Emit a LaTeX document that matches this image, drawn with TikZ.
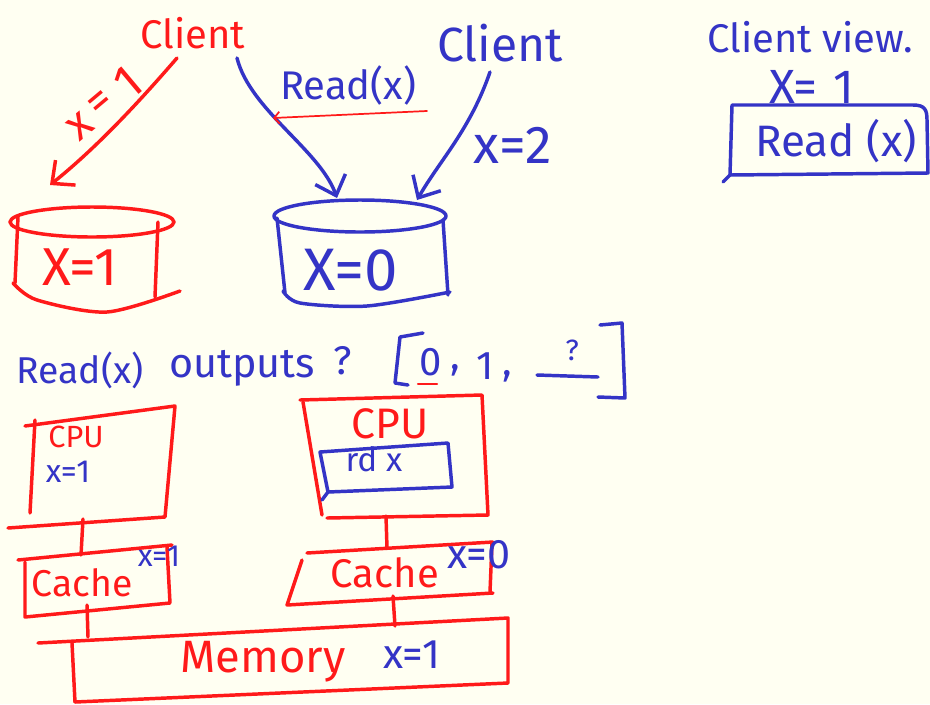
\documentclass[tikz,border=0pt]{standalone}
\usepackage{fontspec}
\setmainfont{Fira Sans}
\usetikzlibrary{arrows.meta}
\definecolor{inkred}{HTML}{FF1A1A}
\definecolor{inkblue}{HTML}{3434C6}
\definecolor{paper}{HTML}{FFFFF2}

\begin{document}
\begin{tikzpicture}[x=0.75pt,y=-0.75pt, line cap=round, line join=round,
  redpen/.style={draw=inkred, line width=2.6pt},
  bluepen/.style={draw=inkblue, line width=2.6pt},
  redtxt/.style={text=inkred, inner sep=0pt},
  bluetxt/.style={text=inkblue, inner sep=0pt},
  fs/.style={font=\fontsize{#1}{#1}\selectfont},
  tip/.style={-{Straight Barb[length=13pt,width=24pt]}}]

% paper
\fill[paper] (0,0) rectangle (930,704);
\useasboundingbox (0,0) rectangle (930,704);

% ---------- clients and stores ----------
\node[redtxt, fs=30] (clientA) at (193,33) {Client};
\node[bluetxt, fs=36] (clientB) at (500,43) {Client};
\coordinate (clientA-l) at (177,58);
\coordinate (clientA-r) at (237,58);
\coordinate (clientB-o) at (490,72);

% red store
\draw[redpen] (92,222) ellipse [x radius=82, y radius=15];
\draw[redpen] (18,217) -- (15,283);
\draw[redpen] (158,222) -- (155,297);
\draw[redpen] plot[smooth] coordinates {(13,283) (37,300) (107,312) (180,291)};
\node[redtxt, fs=40] (storeA) at (80,267) {X=1};
\coordinate (storeA-in) at (50,185);

% blue store
\draw[bluepen] (360,216) ellipse [x radius=86, y radius=16];
\draw[bluepen] (277,218) -- (285,293);
\draw[bluepen] (443,220) -- (448,295);
\draw[bluepen] plot[smooth] coordinates {(283,291) (300,303) (367,306) (450,292)};
\node[bluetxt, fs=45] (storeB) at (351,270) {X=0};
\coordinate (storeB-in1) at (337,198);
\coordinate (storeB-in2) at (417,200);

% requests
\draw[redpen, tip] (clientA-l) .. controls (145,95) and (100,145) .. (storeA-in);
% the write label, set along the arrow
\node[redtxt, fs=34, rotate=40] (wr1x) at (80,126) {x};
\node[redtxt, fs=34, rotate=40] (wr1eq) at (101,104) {=};
\node[redtxt, fs=36, rotate=40] (wr1one) at (128,83) {1};
\draw[bluepen, tip] (clientA-r) .. controls (250,110) and (320,150) .. (storeB-in1);
\node[bluetxt, fs=30] (rdA) at (348,85) {Read(x)};
\coordinate (rdA-u) at (427,111);
\coordinate (rdA-v) at (273,118);
\draw[draw=inkred, line width=1.3pt, -{Straight Barb[length=4pt,width=9pt]}] (rdA-u) -- (rdA-v);
\draw[bluepen, tip] (clientB-o) .. controls (470,130) and (440,160) .. (storeB-in2);
\node[bluetxt, fs=40] (wr2) at (513,145) {x=2};

% ---------- client view ----------
\node[bluetxt, fs=30] (cview) at (810,37) {Client view.};
\node[bluetxt, fs=36] (cviewx) at (812,87) {X=\,\,1};
\draw[bluepen] (732,105) -- (913,105) .. controls (925,105) and (927,110) .. (927,120)
  -- (928,173) -- (730,175) -- cycle;
\draw[bluepen] (730,175) -- (723,182);
\node[bluetxt, fs=33] (cviewrd) at (836,141) {Read (x)};

% ---------- possible outputs ----------
\node[bluetxt, fs=28] (outA) at (80,370) {Read(x)};
\node[bluetxt, fs=31] (outB) at (242,368) {outputs};
\node[bluetxt, fs=30] (outQ) at (343,361) {?};
\draw[bluepen] (423,333) -- (400,337) -- (395,383) -- (408,385);
\node[bluetxt, fs=30] (v0) at (431,362) {0};
\draw[draw=inkred, line width=1.6pt] (418,384) -- (437,384);
\node[bluetxt, fs=30] (c1) at (455,370) {,};
\node[bluetxt, fs=30] (v1) at (485,366) {1};
\node[bluetxt, fs=30] (c2) at (507,376) {,};
\draw[bluepen] (537,375) -- (598,377);
\node[bluetxt, fs=22] (vq) at (572,350) {?};
\draw[bluepen] (600,325) -- (622,323) -- (625,398) -- (598,397);

% ---------- left processor ----------
\draw[redpen] (8,528) -- (165,517) -- (175,406) -- (25,426);
\draw[redpen] (35,420) -- (30,513);
\node[redtxt, fs=23] (cpuA) at (76,437) {CPU};
\node[bluetxt, fs=24] (cpuAx) at (68,472) {x=1};
\coordinate (cpuA-b) at (83,519);

\draw[redpen] (18,560) -- (172,545);
\draw[redpen] (25,562) -- (25,617) -- (170,603) -- (167,547);
\node[redtxt, fs=28] (cacheA) at (82,583) {Cache};
\node[bluetxt, fs=23] (cacheAx) at (159,556) {x=1};
\coordinate (cacheA-t) at (81,555);
\coordinate (cacheA-b) at (87,605);

% ---------- right processor ----------
\draw[redpen] (300,400) -- (482,395) -- (488,515) -- (327,518);
\draw[redpen] (303,402) -- (322,515);
\node[redtxt, fs=32] (cpuB) at (390,424) {CPU};
\draw[bluepen] (320,452) -- (448,443) -- (452,487) -- (328,492) -- cycle;
\draw[bluepen] (328,492) -- (322,500);
\node[bluetxt, fs=25] (cpuBrd) at (374,459) {rd x};
\coordinate (cpuB-b) at (386,516);

\draw[redpen] (307,553) -- (493,542);
\draw[redpen] (302,560) -- (287,605) -- (493,593);
\draw[redpen] (492,543) -- (490,592);
\node[redtxt, fs=30] (cacheB) at (385,573) {Cache};
\node[bluetxt, fs=31] (cacheBx) at (479,555) {x=0};
\coordinate (cacheB-t) at (387,548);
\coordinate (cacheB-b) at (393,596);

% ---------- memory ----------
\draw[redpen] (38,643) -- (508,618) -- (508,683) -- (75,702);
\draw[redpen] (72,643) -- (75,702);
\node[redtxt, fs=34] (mem) at (263,662) {Memory};
\node[bluetxt, fs=31] (memx) at (412,655) {x=1};
\coordinate (mem-a) at (88,637);
\coordinate (mem-b) at (395,626);

% buses
\draw[redpen] (cpuA-b) -- (cacheA-t);
\draw[redpen] (cacheA-b) -- (mem-a);
\draw[redpen] (cpuB-b) -- (cacheB-t);
\draw[redpen] (cacheB-b) -- (mem-b);
\end{tikzpicture}
\end{document}
